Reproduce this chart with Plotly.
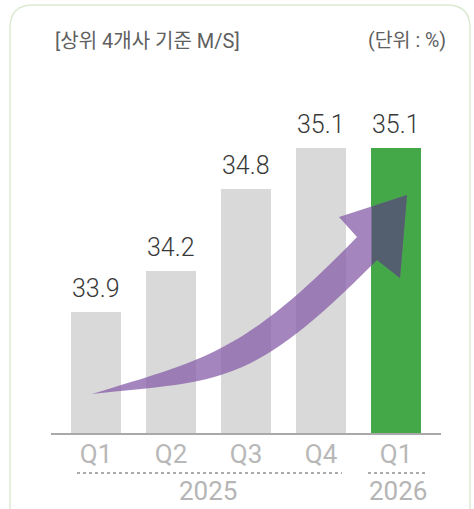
import plotly.graph_objects as go

# ---- data ----
quarters = ["Q1", "Q2", "Q3", "Q4", "Q1"]
years = ["2025", "2026"]
share = [33.9, 34.2, 34.8, 35.1, 35.1]
bar_colors = ["#d9d9d9", "#d9d9d9", "#d9d9d9", "#d9d9d9", "#44a848"]
title_left = "[상위 4개사 기준 M/S]"
title_right = "(단위 : %)"

# ---- layout geometry (pixels) ----
W, H = 474, 509
L, R, T, B = 51, 33, 60, 76
PW, PH = W - L - R, H - T - B


def px(x):
    return (x - L) / PW


def py(y):
    return (H - B - y) / PH


def path(cmds):
    out = []
    for c in cmds:
        if isinstance(c, str):
            out.append(c)
        else:
            out.append(f"{px(c[0]):.5f},{py(c[1]):.5f}")
    return " ".join(out)


FONT = "Roboto, 'Noto Sans CJK KR', sans-serif"

fig = go.Figure()
fig.add_trace(go.Bar(
    x=list(range(len(share))), y=share,
    marker=dict(color=bar_colors, line=dict(width=0)),
    hoverinfo="skip",
))

shapes = []
# card border
shapes.append(dict(
    type="path", xref="paper", yref="paper", layer="below",
    path=path(["M", (10, 530), "L", (10, 28), "Q", (10, 5), (33, 5), "L", (447, 5),
               "Q", (470, 5), (470, 28), "L", (470, 530)]),
    line=dict(color="#dcead2", width=1.5), fillcolor="rgba(0,0,0,0)",
))
# arrow
shapes.append(dict(
    type="path", xref="paper", yref="paper", layer="above",
    path=path(["M", (92, 394), "C", (202, 360), (243, 355), (357, 237),
               "L", (339, 217), "L", (407, 195), "L", (400, 278), "L", (377, 260),
               "C", (250, 388), (222, 380), (92, 394), "Z"]),
    line=dict(width=0), fillcolor="rgba(135,95,170,0.76)",
))
shapes.append(dict(
    type="path", xref="paper", yref="paper", layer="above",
    path=path(["M", (372, 206.5), "L", (407, 195), "L", (400, 278), "L", (377, 260),
               "L", (372, 265), "Z"]),
    line=dict(width=0), fillcolor="#535e6e",
))
# dotted year separators
for x0, x1 in [(77, 342), (368, 428)]:
    shapes.append(dict(type="line", xref="paper", yref="paper",
                       x0=px(x0), x1=px(x1), y0=py(473), y1=py(473),
                       line=dict(color="#aaaaaa", width=2, dash="dot")))

annotations = [
    dict(text=title_left, x=px(53), y=py(41), xref="paper", yref="paper",
         xanchor="left", yanchor="middle", showarrow=False,
         font=dict(size=20, color="#606060", family=FONT)),
    dict(text=title_right, x=px(448), y=py(41), xref="paper", yref="paper",
         xanchor="right", yanchor="middle", showarrow=False,
         font=dict(size=19.5, color="#606060", family=FONT)),
    dict(text=years[0], x=px(208), y=py(491), xref="paper", yref="paper",
         xanchor="center", yanchor="middle", showarrow=False,
         font=dict(size=26, color="#b5b5b5", family=FONT)),
    dict(text=years[1], x=px(398), y=py(491), xref="paper", yref="paper",
         xanchor="center", yanchor="middle", showarrow=False,
         font=dict(size=26, color="#b5b5b5", family=FONT)),
]
# value labels above bars
for i, v in enumerate(share):
    annotations.append(dict(
        text=f"{v:.1f}", x=i, y=v, xref="x", yref="y",
        xanchor="center", yanchor="bottom", yshift=7, showarrow=False,
        font=dict(size=25, color="#383838", family=FONT, weight=300),
    ))

fig.update_layout(
    width=W, height=H, margin=dict(l=L, r=R, t=T, b=B, pad=0),
    paper_bgcolor="white", plot_bgcolor="white",
    bargap=1 / 3, showlegend=False,
    shapes=shapes, annotations=annotations,
    font=dict(family=FONT),
    xaxis=dict(range=[-0.6, 4.6], tickvals=list(range(len(quarters))), ticktext=quarters,
               showgrid=False, zeroline=False, showline=True, linecolor="#a9a9a9", linewidth=2,
               ticks="", ticklabelstandoff=-3,
               tickfont=dict(size=26, color="#b8b8b8", family=FONT), fixedrange=True),
    yaxis=dict(range=[33.015, 33.015 + PH / 136.7], visible=False, fixedrange=True),
)

fig.write_html("out.html", config={"displayModeBar": False},
               post_script="document.body.style.margin='0';document.body.style.overflow='hidden';")
